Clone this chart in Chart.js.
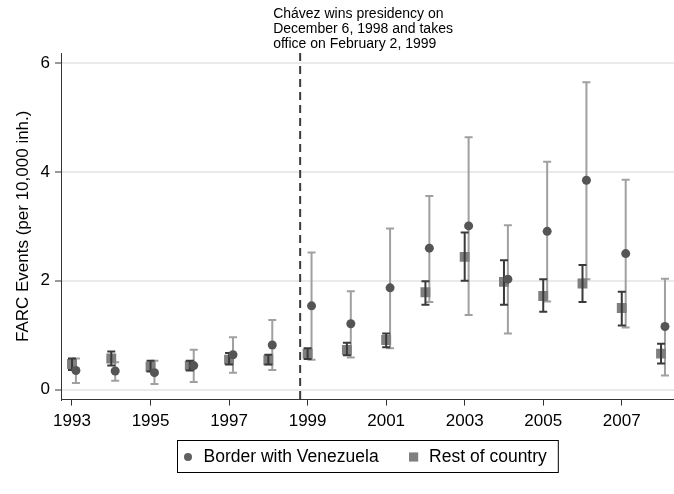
<!DOCTYPE html>
<html>
<head>
<meta charset="utf-8">
<script src="https://cdn.jsdelivr.net/npm/chart.js@4.4.1/dist/chart.umd.min.js"></script>
<style>
  html, body { margin: 0; padding: 0; background: #fff; }
</style>
</head>
<body>
<canvas id="farcChart" width="674" height="494"></canvas>
<script>
// values
const years = [1993, 1994, 1995, 1996, 1997, 1998, 1999, 2000, 2001, 2002, 2003, 2004, 2005, 2006, 2007, 2008];
const borderMean = [0.35, 0.34, 0.31, 0.44, 0.64, 0.82, 1.54, 1.21, 1.87, 2.60, 3.01, 2.03, 2.91, 3.85, 2.50, 1.16];
const borderLow = [0.12, 0.16, 0.10, 0.14, 0.31, 0.36, 0.55, 0.59, 0.76, 1.61, 1.37, 1.03, 1.62, 2.03, 1.14, 0.26];
const borderHigh = [0.57, 0.50, 0.53, 0.73, 0.96, 1.28, 2.52, 1.81, 2.96, 3.56, 4.64, 3.02, 4.19, 5.65, 3.86, 2.04];
const restMean = [0.47, 0.57, 0.42, 0.44, 0.55, 0.54, 0.66, 0.73, 0.91, 1.79, 2.44, 1.98, 1.72, 1.95, 1.50, 0.66];
const restLow = [0.36, 0.44, 0.33, 0.35, 0.46, 0.46, 0.56, 0.63, 0.78, 1.56, 2.00, 1.56, 1.43, 1.61, 1.18, 0.48];
const restHigh = [0.57, 0.70, 0.53, 0.53, 0.67, 0.64, 0.76, 0.86, 1.03, 1.99, 2.89, 2.38, 2.03, 2.29, 1.80, 0.84];
const xTicks = [1993, 1995, 1997, 1999, 2001, 2003, 2005, 2007];
const yTicks = [0, 2, 4, 6];
const borderShift = 0.1;
const chavezYear = 1998.81;
const chavezNote = ['Chávez wins presidency on', 'December 6, 1998 and takes', 'office on February 2, 1999'];

const fontFamily = "'Liberation Sans', Arial, sans-serif";
Chart.defaults.font.family = fontFamily;
Chart.defaults.color = '#000';

// whiskers with caps, one dataset at a time
function drawWhiskers(chart, index) {
  const ds = chart.data.datasets[index];
  const { x, y } = chart.scales;
  const ctx = chart.ctx;
  const cap = 4;
  ctx.save();
  ctx.strokeStyle = ds.whiskerColor;
  ctx.lineWidth = ds.whiskerWidth;
  ds.data.forEach((pt, i) => {
    const px = x.getPixelForValue(pt.x);
    const lo = y.getPixelForValue(ds.low[i]);
    const hi = y.getPixelForValue(ds.high[i]);
    ctx.beginPath();
    ctx.moveTo(px, lo);
    ctx.lineTo(px, hi);
    ctx.moveTo(px - cap, lo);
    ctx.lineTo(px + cap, lo);
    ctx.moveTo(px - cap, hi);
    ctx.lineTo(px + cap, hi);
    ctx.stroke();
  });
  ctx.restore();
}

const errorBars = {
  id: 'errorBars',
  beforeDatasetsDraw(chart) {
    const { ctx, chartArea } = chart;
    const px = chart.scales.x.getPixelForValue(chavezYear);
    ctx.save();
    ctx.strokeStyle = '#3c3c3c';
    ctx.lineWidth = 2;
    ctx.setLineDash([8, 5]);
    ctx.beginPath();
    ctx.moveTo(px, chartArea.top);
    ctx.lineTo(px, chartArea.bottom);
    ctx.stroke();
    ctx.restore();
    drawWhiskers(chart, 0);
  },
  afterDatasetDraw(chart, args) {
    if (args.index === 1) drawWhiskers(chart, 1);
  },
  afterDraw(chart) {
    const { ctx, chartArea } = chart;
    const px = chart.scales.x.getPixelForValue(chavezYear);
    ctx.save();
    ctx.fillStyle = '#000';
    ctx.font = '14px ' + fontFamily;
    ctx.textBaseline = 'alphabetic';
    chavezNote.forEach((line, i) => {
      ctx.fillText(line, px - 27, chartArea.top - 35 + i * 15.2);
    });
    ctx.restore();
  },
};

// boxed legend under the x axis
const boxLegend = {
  id: 'boxLegend',
  afterDraw(chart) {
    const { ctx, chartArea } = chart;
    ctx.save();
    ctx.font = '17.5px ' + fontFamily;
    const items = chart.data.datasets.map((ds) => ({ ds, w: ctx.measureText(ds.label).width }));
    const padX = 11;
    const markGap = 15.5;
    const itemGap = 35;
    const width = padX * 2 + items.reduce((s, it) => s + markGap + it.w, 0) + itemGap * (items.length - 1);
    const left = Math.round((chartArea.left + chartArea.right) / 2 - width / 2);
    const top = Math.round(chartArea.bottom + 40);
    const h = 32;
    ctx.strokeStyle = '#000';
    ctx.lineWidth = 1;
    ctx.strokeRect(left + 0.5, top + 0.5, width, h);
    let cx = left + padX;
    const cy = top + h / 2 + 1;
    items.forEach((it) => {
      ctx.fillStyle = it.ds.legendColor;
      Chart.helpers.drawPoint(ctx, { pointStyle: it.ds.pointStyle, radius: it.ds.legendRadius, borderWidth: 0 }, cx, cy);
      ctx.fillStyle = '#000';
      ctx.textBaseline = 'middle';
      ctx.fillText(it.ds.label, cx + markGap, cy);
      cx += markGap + it.w + itemGap;
    });
    ctx.restore();
  },
};

new Chart(document.getElementById('farcChart'), {
  type: 'scatter',
  data: {
    datasets: [
      {
        label: 'Border with Venezuela',
        data: years.map((yr, i) => ({ x: yr + borderShift, y: borderMean[i] })),
        low: borderLow,
        high: borderHigh,
        pointStyle: 'circle',
        pointRadius: 4.5,
        backgroundColor: '#555555',
        borderWidth: 0,
        whiskerColor: '#a0a0a0',
        whiskerWidth: 2,
        legendColor: '#606060',
        legendRadius: 4,
        order: 0,
      },
      {
        label: 'Rest of country',
        data: years.map((yr, i) => ({ x: yr, y: restMean[i] })),
        low: restLow,
        high: restHigh,
        pointStyle: 'rect',
        pointRadius: 7,
        backgroundColor: '#7f7f7f',
        borderWidth: 0,
        whiskerColor: '#3a3a3a',
        whiskerWidth: 2,
        legendColor: '#808080',
        legendRadius: 6.5,
        order: 1,
      },
    ],
  },
  options: {
    responsive: false,
    animation: false,
    devicePixelRatio: 1,
    layout: { autoPadding: false, padding: { top: 53, right: 0, bottom: 56, left: 0 } },
    plugins: {
      legend: { display: false },
      tooltip: { enabled: false },
    },
    scales: {
      x: {
        type: 'linear',
        min: 1992.72,
        max: 2008.33,
        afterBuildTicks: (axis) => {
          axis.ticks = xTicks.map((v) => ({ value: v }));
        },
        grid: { drawOnChartArea: false, tickLength: 6, tickColor: '#333', tickWidth: 1 },
        border: { color: '#333', width: 1 },
        ticks: { font: { size: 17 }, color: '#000', padding: 6, maxRotation: 0, callback: (v) => String(v) },
      },
      y: {
        type: 'linear',
        min: -0.185,
        max: 6.19,
        afterBuildTicks: (axis) => {
          axis.ticks = yTicks.map((v) => ({ value: v }));
        },
        afterFit: (scale) => {
          scale.width = 61;
        },
        grid: { color: '#eaeaea', lineWidth: 2, tickLength: 6, tickColor: '#333', tickWidth: 1 },
        border: { color: '#333', width: 1 },
        ticks: { font: { size: 17 }, color: '#000', padding: 5 },
        title: {
          display: true,
          text: 'FARC Events (per 10,000 inh.)',
          font: { size: 17 },
          color: '#000',
          padding: { top: 13, bottom: 0 },
        },
      },
    },
  },
  plugins: [errorBars, boxLegend],
});
</script>
</body>
</html>
